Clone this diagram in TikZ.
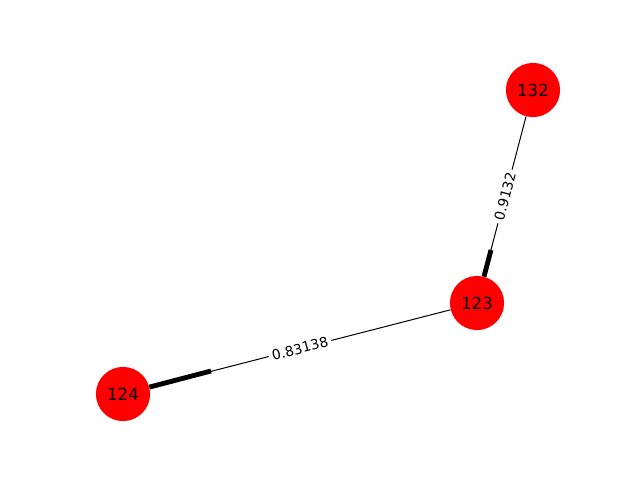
\documentclass[tikz,border=0pt]{standalone}
\usepackage{fontspec}
\setmainfont{DejaVu Sans}
\begin{document}
\begin{tikzpicture}[x=0.72pt,y=-0.72pt,
  vertex/.style={circle,fill=red,draw=none,minimum size=39pt,inner sep=0pt,font=\fontsize{12}{14}\selectfont},
  edgelabel/.style={midway,sloped,fill=white,inner sep=2.5pt,font=\fontsize{10}{12}\selectfont},
  thin edge/.style={line width=0.72pt},
  heavy/.style={line width=3.5pt}]
\useasboundingbox (0,0) rectangle (640,480);
\node[vertex] (n132) at (533,90) {132};
\node[vertex] (n123) at (477,303) {123};
\node[vertex] (n124) at (123,394) {124};
\coordinate (t1) at (491,250);
\coordinate (t2) at (211,371);
\draw[thin edge] (n123) -- (n132) node[edgelabel] {0.9132};
\draw[thin edge] (n124) -- (n123) node[edgelabel] {0.83138};
\draw[heavy] (n123) -- (t1);
\draw[heavy] (n124) -- (t2);
\end{tikzpicture}
\end{document}
